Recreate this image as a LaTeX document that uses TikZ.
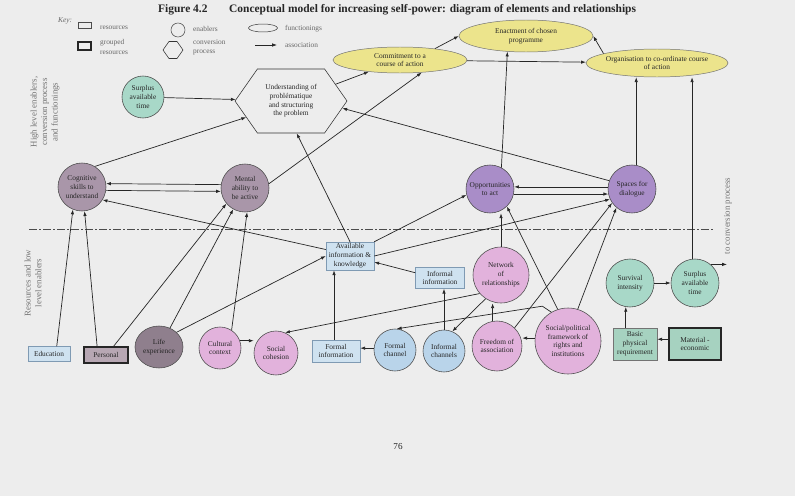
\documentclass[tikz,border=0pt]{standalone}
\usepackage{fontspec}
\setmainfont{Liberation Serif}
\usetikzlibrary{arrows.meta,shapes.geometric,shapes.symbols}
\definecolor{paper}{HTML}{EDEDED}
\definecolor{resfill}{HTML}{CFE2F0}
\definecolor{resline}{HTML}{7F9AB3}
\definecolor{chanfill}{HTML}{B9D4EA}
\definecolor{pinkfill}{HTML}{E2B2DC}
\definecolor{mauvefill}{HTML}{A996A9}
\definecolor{lifefill}{HTML}{8F7F8D}
\definecolor{persfill}{HTML}{B7A7B3}
\definecolor{purplefill}{HTML}{A98DC8}
\definecolor{tealfill}{HTML}{A8D8C8}
\definecolor{greenfill}{HTML}{A6D2C0}
\definecolor{funcfill}{HTML}{ECE48C}
\begin{document}
\begin{tikzpicture}[x=0.05cm,y=-0.05cm,
    >={Latex[length=2.4mm,width=1.7mm]},
    every node/.style={font=\fontsize{10.5}{12.5}\selectfont, text=black!85, align=center, inner sep=0.5mm},
    res/.style 2 args={rectangle, draw=resline, fill=resfill, line width=0.7pt, minimum width=#1, minimum height=#2},
    grouped/.style 2 args={rectangle, draw=black!85, line width=2.6pt, minimum width=#1, minimum height=#2},
    enabler/.style 2 args={circle, draw=black!70, line width=0.8pt, fill=#2, minimum size=#1, inner sep=0pt},
    func/.style 2 args={ellipse, draw=black!55, line width=0.7pt, fill=funcfill, minimum width=#1, minimum height=#2, inner sep=0pt},
    conv/.style 2 args={signal, signal to=west and east, signal pointer angle=110, draw=black!80, line width=0.8pt, minimum width=#1, minimum height=#2, inner sep=0pt},
    assoc/.style={->, line width=1pt, draw=black!85},
    divider/.style={line width=0.9pt, draw=black!70, dash pattern=on 4mm off 1.2mm on 0.6mm off 1.2mm},
    side/.style={rotate=90, text=black!55, font=\fontsize{12.5}{15}\selectfont},
    keytext/.style={anchor=west, align=left, text=black!60, font=\fontsize{10.5}{13}\selectfont}]
  \useasboundingbox (0,0) rectangle (795,496);
  \fill[paper] (0,0) rectangle (795,496);
  %%%%%%%%%%%%%%%%%%%%%%%%%%%%%%%%%%%%%%%%%%%%%%%
  \node[anchor=west, font=\fontsize{16.3}{19}\selectfont\bfseries] at (157,10) (fig) {Figure 4.2};
  \node[anchor=west, font=\fontsize{16.3}{19}\selectfont\bfseries] at (228,10) (title) {Conceptual model for increasing self-power: diagram of elements and relationships};
  %%%%%%%%%%%%%%%%%%%%%%%%%%%%%%%%%%%%%%%%%%%%%%%
  \node[keytext, font=\fontsize{10.5}{13}\selectfont\itshape] at (57,21) (key) {Key:};
  \node[res={6.5mm}{3mm}, fill=none, draw=black!70] at (84.5,25) (kres) {};
  \node[grouped={6.5mm}{4mm}, line width=1.6pt] at (84.5,46) (kgroup) {};
  \node[enabler={7mm}{none}] at (178,30) (kenab) {};
  \node[conv={10mm}{8.5mm}] at (173,50) (kconv) {};
  \node[func={14.5mm}{4mm}, fill=none, draw=black!80] at (263,28) (kfunc) {};
  \coordinate (kassocA) at (255,45);
  \coordinate (kassocB) at (277,45);
  \draw[assoc] (kassocA) -- (kassocB);
  \node[keytext] at (99,28) (tres) {resources};
  \node[keytext] at (99,47) (tgroup) {grouped\\resources};
  \node[keytext] at (192,29) (tenab) {enablers};
  \node[keytext] at (192,47.5) (tconv) {conversion\\process};
  \node[keytext] at (284,29) (tfunc) {functionings};
  \node[keytext] at (284,45) (tassoc) {association};
  %%%%%%%%%%%%%%%%%%%%%%%%%%%%%%%%%%%%%%%%%%%%%%%
  \node[side] at (45,112) (hilabel) {High level enablers,\\conversion process\\and functionings};
  \node[side] at (33,283) (lolabel) {Resources and low\\level enablers};
  \node[side] at (728,216) (toconvlabel) {to conversion process};
  \coordinate (divL) at (29,229);
  \coordinate (divR) at (713,229);
  \draw[divider] (divL) -- (divR);
  %%%%%%%%%%%%%%%%%%%%%%%%%%%%%%%%%%%%%%%%%%%%%%%
  \node[func={67mm}{13mm}] at (400,60) (commit) {Commitment to a\\course of action};
  \node[func={67mm}{16mm}] at (526,36) (enact) {Enactment of chosen\\programme};
  \node[func={71mm}{14mm}, inner xsep=-2mm] at (657,63) (org) {Organisation to co-ordinate course\\of action};
  \node[conv={56mm}{32mm}] at (291,101) (hex) {Understanding of\\problématique\\and structuring\\the problem};
  \node[enabler={21mm}{tealfill}] at (143,97) (surplusA) {Surplus\\available\\time};
  %%%%%%%%%%%%%%%%%%%%%%%%%%%%%%%%%%%%%%%%%%%%%%%
  \node[enabler={24mm}{mauvefill}] at (82,187) (cog) {Cognitive\\skills to\\understand};
  \node[enabler={24mm}{mauvefill}] at (245,188) (mental) {Mental\\ability to\\be active};
  \node[enabler={24mm}{purplefill}] at (490,189) (opp) {Opportunities\\to act};
  \node[enabler={24mm}{purplefill}] at (632,189) (spaces) {Spaces for\\dialogue};
  %%%%%%%%%%%%%%%%%%%%%%%%%%%%%%%%%%%%%%%%%%%%%%%
  \node[res={24mm}{14mm}] at (350,256) (avail) {Available\\information \&\\knowledge};
  \node[res={24.5mm}{10.5mm}] at (440,278) (infinfo) {Informal\\information};
  \node[enabler={28mm}{pinkfill}] at (501,275) (network) {Network\\of\\relationships};
  \node[enabler={24mm}{tealfill}] at (630,283) (survival) {Survival\\intensity};
  \node[enabler={24mm}{tealfill}] at (695,283) (surplusB) {Surplus\\available\\time};
  \coordinate (toconv) at (727,264);
  %%%%%%%%%%%%%%%%%%%%%%%%%%%%%%%%%%%%%%%%%%%%%%%
  \node[res={21mm}{7.5mm}] at (49,354) (edu) {Education};
  \node[grouped={22mm}{8mm}, fill=persfill] at (106,355) (personal) {Personal};
  \node[ellipse, draw=black!70, line width=0.8pt, fill=lifefill, minimum width=24mm, minimum height=21mm, inner sep=0pt] at (159,347) (life) {Life\\experience};
  \node[enabler={21mm}{pinkfill}] at (220,348) (cultural) {Cultural\\context};
  \node[enabler={22mm}{pinkfill}] at (276,353) (social) {Social\\cohesion};
  \node[res={24mm}{11mm}] at (336,351) (forminfo) {Formal\\information};
  \node[enabler={21mm}{chanfill}] at (395,350) (formchan) {Formal\\channel};
  \node[enabler={21mm}{chanfill}] at (444,351) (infchan) {Informal\\channels};
  \node[enabler={25mm}{pinkfill}] at (497,346) (freedom) {Freedom of\\association};
  \node[enabler={33mm}{pinkfill}] at (568,341) (socpol) {Social/political\\framework of\\rights and\\institutions};
  \node[res={22mm}{16mm}, fill=greenfill, draw=black!55] at (635,344) (basic) {Basic\\physical\\requirement};
  \node[grouped={26mm}{16mm}, fill=greenfill] at (695,344) (material) {Material -\\economic};
  %%%%%%%%%%%%%%%%%%%%%%%%%%%%%%%%%%%%%%%%%%%%%%%
  \node[font=\fontsize{13}{15}\selectfont] at (398,447) (page) {76};
  %%%%%%%%%%%%%%%%%%%%%%%%%%%%%%%%%%%%%%%%%%%%%%%
  \draw[assoc] (surplusA) -- (hex);
  \draw[assoc] (cog.58) -- (hex.200);
  \draw[assoc] (hex) -- (commit);
  \draw[assoc] (commit.18) -- (enact.west);
  \draw[assoc] (commit) -- (org);
  \draw[assoc] (org.170) -- (enact.east);
  \draw[assoc] (mental.10) -- (commit.-30);
  \draw[assoc] (spaces.160) -- (hex.-8);
  \draw[assoc] (avail.north) -- (hex.-80);
  \draw[assoc] (opp.62) -- (enact.220);
  \draw[assoc] (spaces.80) -- (spaces.80 |- org.south);
  \draw[assoc] (surplusB.97) -- (surplusB.97 |- org.south);
  %%%%%%%%%%%%%%%%%%%%%%%%%%%%%%%%%%%%%%%%%%%%%%%
  \draw[assoc] (mental.172) -- (cog.8);
  \draw[assoc] (cog.-8) -- (mental.-172);
  \draw[assoc] (spaces.175) -- (opp.5);
  \draw[assoc] (opp.-12) -- (spaces.-168);
  \draw[assoc] (avail.165) -- (cog.-32);
  \draw[assoc] (edu.45) -- (cog.-112);
  \draw[assoc] (personal.135) -- (cog.-84);
  \draw[assoc] (personal.49) -- (mental.-140);
  \draw[assoc] (life.60) -- (mental.-119);
  \draw[assoc] (cultural.57) -- (mental.-85);
  \draw[assoc] (life.40) -- (avail.west);
  %%%%%%%%%%%%%%%%%%%%%%%%%%%%%%%%%%%%%%%%%%%%%%%
  \draw[assoc] (cultural.20) -- (cultural.20 -| social.west);
  \draw[assoc] (forminfo.100) -- (forminfo.100 |- avail.south);
  \draw[assoc] (formchan.175) -- (formchan.175 -| forminfo.east);
  \draw[assoc] (infchan.north) -- (infchan.north |- infinfo.south);
  \draw[assoc] (infinfo.168) -- (avail.-14);
  \draw[assoc] (avail.north east) -- (opp.194);
  \draw[assoc] (avail.east) -- (spaces.205);
  \draw[assoc] (network.north) -- (network.north |- opp.south);
  \draw[assoc] (socpol.108) -- (opp.-46);
  \draw[assoc] (freedom.46) -- (spaces.215);
  \draw[assoc] (socpol.73) -- (spaces.-130);
  \draw[assoc] (freedom.100) -- (freedom.100 |- network.south);
  \draw[assoc] (network.-123) -- (infchan.67);
  \draw[assoc] (network.221) -- (social.66);
  \draw[assoc] (socpol.120) -- ++(-9,-6) -- (formchan.85);
  \draw[assoc] (socpol.175) -- (socpol.175 -| freedom.east);
  %%%%%%%%%%%%%%%%%%%%%%%%%%%%%%%%%%%%%%%%%%%%%%%
  \draw[assoc] (survival) -- (surplusB);
  \draw[assoc] (basic.north -| survival.-100) -- (survival.-100);
  \draw[assoc] (material.170) -- (material.170 -| basic.east);
  \draw[assoc] (surplusB.50) -- (surplusB.50 -| toconv);
\end{tikzpicture}
\end{document}
